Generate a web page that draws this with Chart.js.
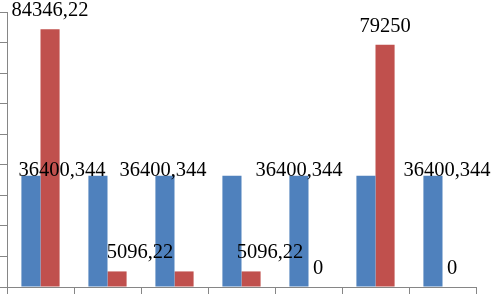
<!DOCTYPE html>
<html>
<head>
<meta charset="utf-8">
<script src="https://cdn.jsdelivr.net/npm/chart.js@4"></script>
<style>
  html, body { margin: 0; padding: 0; background: #fff; }
  canvas { display: block; }
</style>
</head>
<body>
<canvas id="chart" width="492" height="294"></canvas>
<script>
// data
const categories = ['1', '2', '3', '4', '5', '6', '7'];
const blueValues = [36400.344, 36400.344, 36400.344, 36400.344, 36400.344, 36400.344, 36400.344];
const redValues = [84346.22, 5096.22, 5096.22, 5096.22, 0, 79250, 0];
const yTicksMax = 90000;
const yTicksStep = 10000;

// which value labels are visible, and how far they are nudged sideways
const blueLabelShift = [31, null, -2, null, 0, null, 14];
const redLabelShift = [0, 23, null, 19, 0, 0, 0];

const axisGray = '#868686';

function fmt(v) {
    return String(v).replace('.', ',');
}

const valueLabels = {
    id: 'valueLabels',
    afterDatasetsDraw(chart) {
        const ctx = chart.ctx;
        ctx.save();
        ctx.font = '20.5px "Liberation Serif", "Times New Roman", serif';
        ctx.fillStyle = '#000';
        ctx.textAlign = 'center';
        ctx.textBaseline = 'alphabetic';
        const blueBars = chart.getDatasetMeta(0).data;
        const redBars = chart.getDatasetMeta(1).data;
        blueBars.forEach((bar, i) => {
            if (blueLabelShift[i] === null) return;
            ctx.fillText(fmt(blueValues[i]), bar.x + blueLabelShift[i], bar.y);
        });
        redBars.forEach((bar, i) => {
            if (redLabelShift[i] === null) return;
            ctx.fillText(fmt(redValues[i]), bar.x + redLabelShift[i], bar.y - 13);
        });
        ctx.restore();
    }
};

new Chart(document.getElementById('chart'), {
    type: 'bar',
    data: {
        labels: categories,
        datasets: [
            { data: blueValues, backgroundColor: '#4F81BD', categoryPercentage: 0.57, barPercentage: 1.0 },
            { data: redValues, backgroundColor: '#C0504D', categoryPercentage: 0.57, barPercentage: 1.0 }
        ]
    },
    options: {
        responsive: false,
        animation: false,
        layout: { padding: { top: 12, right: 16, left: 0, bottom: 0 } },
        plugins: { legend: { display: false }, tooltip: { enabled: false } },
        scales: {
            x: {
                ticks: { display: false },
                grid: { color: axisGray, drawOnChartArea: false, tickLength: 7 },
                border: { color: axisGray }
            },
            y: {
                min: 0,
                max: yTicksMax,
                ticks: { display: false, stepSize: yTicksStep },
                grid: { color: axisGray, drawOnChartArea: false, tickLength: 7 },
                border: { color: axisGray }
            }
        }
    },
    plugins: [valueLabels]
});
</script>
</body>
</html>
